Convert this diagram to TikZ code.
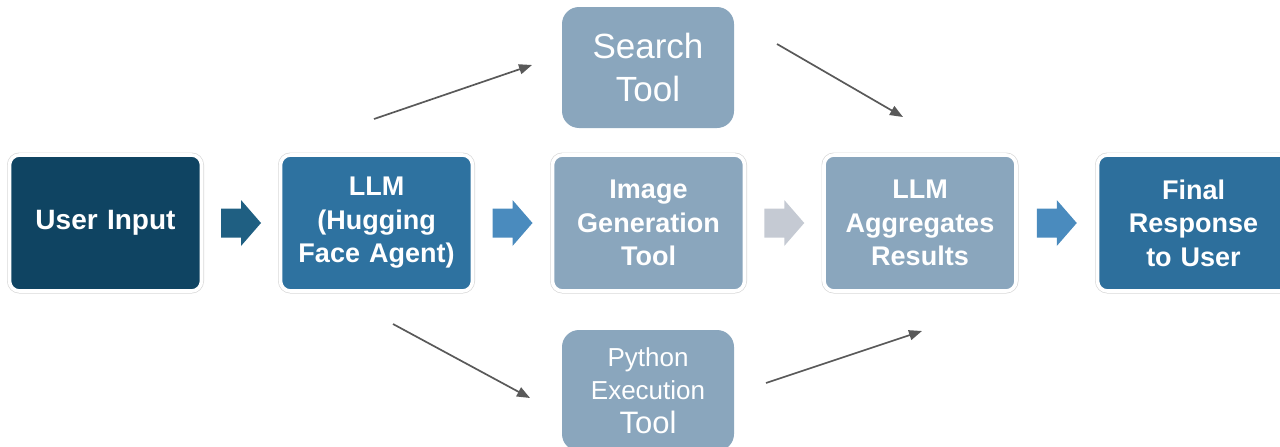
\documentclass[tikz,border=0pt]{standalone}
\usepackage{fontspec}
\setmainfont{Liberation Sans}
\usetikzlibrary{calc,arrows.meta}

\definecolor{navy}{HTML}{0F4462}
\definecolor{midblue}{HTML}{2E72A0}
\definecolor{finalblue}{HTML}{2D6F9C}
\definecolor{toolblue}{HTML}{8AA6BD}
\definecolor{arrowdark}{HTML}{1F5F82}
\definecolor{arrowmid}{HTML}{4A8BBE}
\definecolor{arrowgray}{HTML}{C5CAD3}
\definecolor{linkgray}{HTML}{595959}

% chunky flow arrow centred on a named coordinate
\newcommand\blockarrow[2]{%
  \fill[#2] ($(#1)+(-20,-14.5)$) -- ++(20,0) -- ++(0,-8.5) -- ++(20,23)
    -- ++(-20,23) -- ++(0,-8.5) -- ++(-20,0) -- cycle;}

\begin{document}
\begin{tikzpicture}[x=1pt,y=-1pt,
  stage/.style={rectangle, rounded corners=10pt,
    minimum width=192pt, minimum height=136pt, inner sep=0pt,
    text width=185pt, align=center, text=white,
    font=\bfseries\fontsize{27}{33.5}\selectfont,
    preaction={draw=black!15, line width=5pt},
    draw=white, line width=3.6pt},
  tool/.style={rectangle, rounded corners=17pt, fill=toolblue,
    minimum width=172pt, minimum height=121pt, inner sep=0pt,
    text=white, align=center},
  link/.style={draw=linkgray, line width=1.7pt,
    -{Triangle[length=13pt,width=10pt]}}
]
\useasboundingbox (0,0) rectangle (1280,447);

% main pipeline
\node[stage, fill=navy, font=\bfseries\fontsize{28}{33.5}\selectfont] (input) at (105.5,223) {User Input};
\node[stage, fill=midblue] (llm) at (376.5,223) {LLM\\(Hugging\\Face Agent)};
\node[stage, fill=toolblue] (image) at (648.5,223) {Image\\Generation\\Tool};
\node[stage, fill=toolblue] (agg) at (920,223) {LLM\\Aggregates\\Results};
\node[stage, fill=finalblue] (final) at (1193.5,223) {Final\\Response\\to User};

% side tools
\node[tool, font=\fontsize{35}{43}\selectfont] (search) at (648,67.5) {Search\\Tool};
\node[tool, font=\fontsize{26}{33}\selectfont] (python) at (648,390.5)
  {Python\\Execution\\[1pt]{\fontsize{31}{34}\selectfont Tool}};

% flow arrows between the stages
\coordinate (f1) at ($(input.east)!0.5!(llm.west)$);
\coordinate (f2) at ($(llm.east)!0.5!(image.west)$);
\coordinate (f3) at ($(image.east)!0.5!(agg.west)$);
\coordinate (f4) at ($(agg.east)!0.5!(final.west)$);
\blockarrow{f1}{arrowdark}
\blockarrow{f2}{arrowmid}
\blockarrow{f3}{arrowgray}
\blockarrow{f4}{arrowmid}

% thin connectors to and from the side tools
\coordinate (s1) at (374,119);
\coordinate (s2) at (532,65);
\coordinate (s3) at (777,44);
\coordinate (s4) at (903,117);
\coordinate (p1) at (393,324);
\coordinate (p2) at (530,398);
\coordinate (p3) at (766,383);
\coordinate (p4) at (922,331);
\draw[link] (s1) -- (s2);
\draw[link] (s3) -- (s4);
\draw[link] (p1) -- (p2);
\draw[link] (p3) -- (p4);
\end{tikzpicture}
\end{document}
